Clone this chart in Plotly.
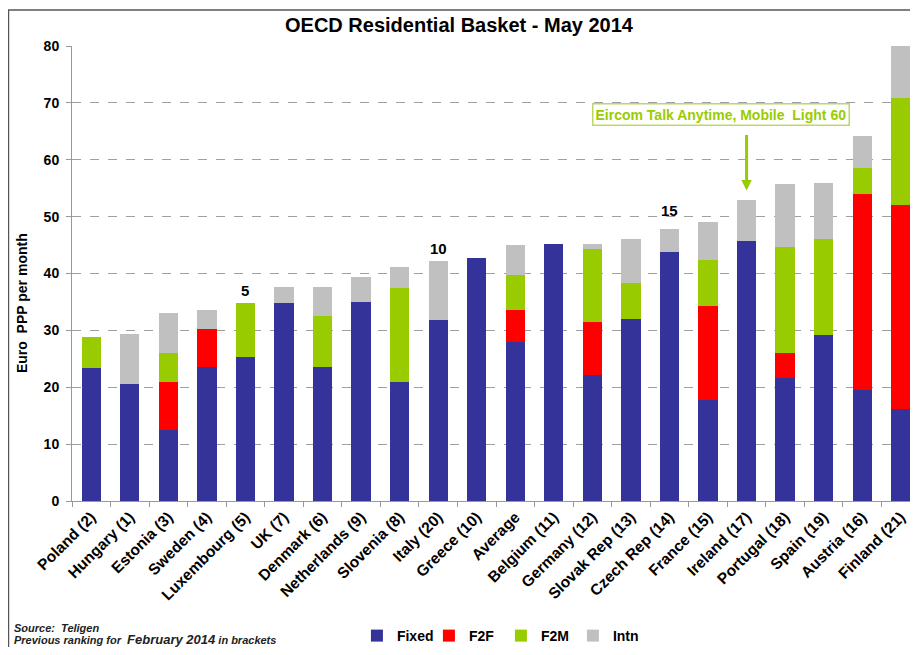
import plotly.graph_objs as go

countries = ["Poland (2)", "Hungary (1)", "Estonia (3)", "Sweden (4)", "Luxembourg (5)", "UK (7)",
             "Denmark (6)", "Netherlands (9)", "Slovenia (8)", "Italy (20)", "Greece (10)", "Average",
             "Belgium (11)", "Germany (12)", "Slovak Rep (13)", "Czech Rep (14)", "France (15)",
             "Ireland (17)", "Portugal (18)", "Spain (19)", "Austria (16)", "Finland (21)"]

fixed = [23.4, 20.6, 12.4, 23.5, 25.4, 34.8, 23.6, 35.0, 21.0, 31.8, 42.8, 28.0,
         45.2, 22.1, 32.0, 43.8, 17.8, 45.7, 21.6, 29.1, 19.5, 16.2]
f2f = [0, 0, 8.6, 6.8, 0, 0, 0, 0, 0, 0, 0, 5.6,
       0, 9.4, 0, 0, 16.4, 0, 4.5, 0, 34.5, 35.9]
f2m = [5.5, 0, 5.1, 0, 9.5, 0, 9.0, 0, 16.5, 0, 0, 6.1,
       0, 12.8, 6.4, 0, 8.1, 0, 18.6, 17.0, 4.5, 18.7]
intn = [0, 8.8, 7.0, 3.3, 0, 2.9, 5.1, 4.4, 3.6, 10.4, 0, 5.3,
        0, 0.9, 7.7, 4.1, 6.8, 7.2, 11.0, 9.8, 5.7, 9.2]

# rank markers shown above some bars
rank_labels = ["5", "10", "15"]
rank_at = ["Luxembourg (5)", "Italy (20)", "Czech Rep (14)"]
rank_y = [35.2, 42.6, 49.3]

series = [("Fixed", fixed, "#333399"), ("F2F", f2f, "#FF0000"),
          ("F2M", f2m, "#99CC00"), ("Intn", intn, "#C0C0C0")]

FONT = "Liberation Sans, Arial"

# page body has an 8px margin, so the figure is a bit smaller than the window
fig = go.Figure()
for name, vals, col in series:
    fig.add_trace(go.Bar(x=countries, y=vals, name=name,
                         marker=dict(color=col, line=dict(width=0))))

fig.update_layout(
    barmode="stack",
    bargap=0.5,
    width=902, height=639,
    margin=dict(l=64, r=0, t=38, b=146),
    plot_bgcolor="white", paper_bgcolor="white",
    font=dict(family=FONT, color="black"),
    title=dict(text="<b>OECD Residential Basket - May 2014</b>", x=0.5, xref="container",
               y=1 - 17 / 639, yanchor="middle", font=dict(size=20)),
    # container ref so the legend doesn't push the bottom margin
    legend=dict(orientation="h", x=0.34, xanchor="left", xref="paper",
                y=1 - 628 / 639, yanchor="middle", yref="container",
                font=dict(size=14, weight="bold"), entrywidth=27, entrywidthmode="pixels",
                traceorder="normal"),
    showlegend=True,
)

fig.update_xaxes(range=[-0.5, 21.24], tickangle=-45, ticks="outside", tickson="boundaries",
                 ticklen=5, tickcolor="#999999", showline=True, linecolor="#999999",
                 tickfont=dict(size=15.5, weight="bold"), showgrid=False)
fig.update_yaxes(range=[0, 80], dtick=10, ticks="outside", ticklen=5, tickcolor="#999999",
                 showline=True, linecolor="#999999", showgrid=True, gridcolor="#A0A0A0",
                 griddash="dash", gridwidth=1, zeroline=False,
                 tickfont=dict(size=14, weight="bold"), ticklabelstandoff=4)

# y title placed by hand, it sits below the middle of the axis in the original
fig.add_annotation(xref="paper", yref="paper", x=-0.0597, y=0.435, xanchor="center", yanchor="middle",
                   textangle=-90, text="<b>Euro  PPP per month</b>", showarrow=False,
                   font=dict(size=14))

for lab, cat, yv in zip(rank_labels, rank_at, rank_y):
    fig.add_annotation(x=cat, y=yv, text="<b>" + lab + "</b>", showarrow=False,
                       font=dict(size=15, color="black"), yanchor="bottom")

# Eircom box + arrow pointing at Ireland
fig.add_annotation(x=16.34, y=67.9, text="<b>Eircom Talk Anytime, Mobile  Light 60</b>",
                   showarrow=False, font=dict(size=14, color="#99CC00"),
                   bordercolor="#B8D86B", borderwidth=1.5, borderpad=2, bgcolor="white")
fig.add_annotation(x="Ireland (17)", y=54.6, ax="Ireland (17)", ay=64.6, axref="x", ayref="y",
                   text="", showarrow=True, arrowhead=2, arrowsize=0.7, arrowwidth=3,
                   arrowcolor="#99CC00")

fig.add_annotation(xref="paper", yref="paper", x=-0.0716, y=-0.279, xanchor="left", yanchor="middle",
                   text="<b><i>Source:  Teligen</i></b>", showarrow=False,
                   font=dict(size=11, color="#222222"))
fig.add_annotation(xref="paper", yref="paper", x=-0.0716, y=-0.304, xanchor="left", yanchor="middle",
                   text="<b><i>Previous ranking for  <span style='font-size:13px'>February 2014</span> in brackets</i></b>",
                   showarrow=False, font=dict(size=11, color="#222222"))

# outer frame
fig.add_shape(type="rect", xref="paper", yref="paper", x0=-0.0758, x1=1.02, y0=-0.4, y1=1.079,
              line=dict(color="#555555", width=1.5), fillcolor="rgba(0,0,0,0)", layer="below")

fig.write_html("out.html")
